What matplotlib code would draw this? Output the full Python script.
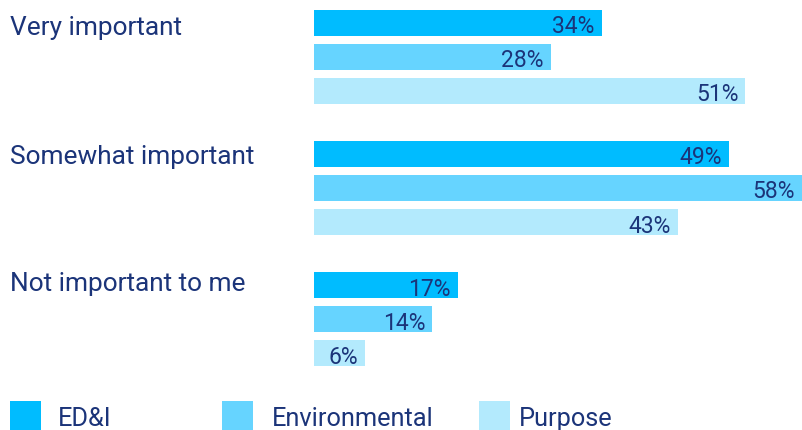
import numpy as np
import matplotlib
matplotlib.use("Agg")
import matplotlib.pyplot as plt
from matplotlib.patches import Rectangle

plt.rcParams['font.family'] = ['Roboto', 'DejaVu Sans']

# data
categories = ["Very important", "Somewhat important", "Not important to me"]
series = ["ED&I", "Environmental", "Purpose"]
edi = [34, 49, 17]
environmental = [28, 58, 14]
purpose = [51, 43, 6]
colors = ["#00bcff", "#66d4ff", "#b3eafd"]
navy = "#1b3479"

W, H = 802, 430
fig = plt.figure(figsize=(W / 100, H / 100), dpi=100)

# axes: bars start at x=314px, first bar top 10px, last bar bottom 366px
ax = fig.add_axes([314 / W, (H - 366) / H, (W - 314) / W, 356 / H])
ax.axis("off")

bar_h = 0.756
group_step = 3.85
values = [edi, environmental, purpose]
xmax = (W - 314) / 8.46

for k, (name, vals, col) in enumerate(zip(series, values, colors)):
    ys = [g * group_step + k for g in range(len(categories))]
    ax.barh(ys, vals, height=bar_h, color=col, linewidth=0)
    for y, v in zip(ys, vals):
        # the longest bar runs off the edge, keep its label inside
        ax.annotate(f"{v}%", xy=(min(v, xmax), y), xytext=(-7, -10.5),
                    textcoords="offset pixels", ha="right", va="baseline",
                    fontsize=16.5, color=navy, annotation_clip=False)

ax.set_xlim(0, xmax)
ax.set_ylim(2 * group_step + 2 + bar_h / 2, -bar_h / 2)

# category labels on the left (baseline drop differs a bit per group)
drops = [12, 10.5, 6]
for g, cat in enumerate(categories):
    ax.annotate(cat, xy=(0, g * group_step), xycoords=("figure pixels", "data"),
                xytext=(10, -drops[g]), textcoords="offset pixels",
                ha="left", va="baseline", fontsize=18.9, color=navy,
                annotation_clip=False)

# legend drawn by hand (uneven spacing in the original)
sq_x = [10, 222, 479]
txt_x = [58, 272, 519]
for sx, tx, name, col in zip(sq_x, txt_x, series, colors):
    fig.patches.append(Rectangle((sx / W, (H - 432) / H), 31 / W, 31 / H,
                                 transform=fig.transFigure, facecolor=col,
                                 edgecolor="none"))
    fig.text(tx / W, (H - 426) / H, name, ha="left", va="baseline",
             fontsize=18.3, color=navy)

fig.savefig("out.png", dpi=100)
